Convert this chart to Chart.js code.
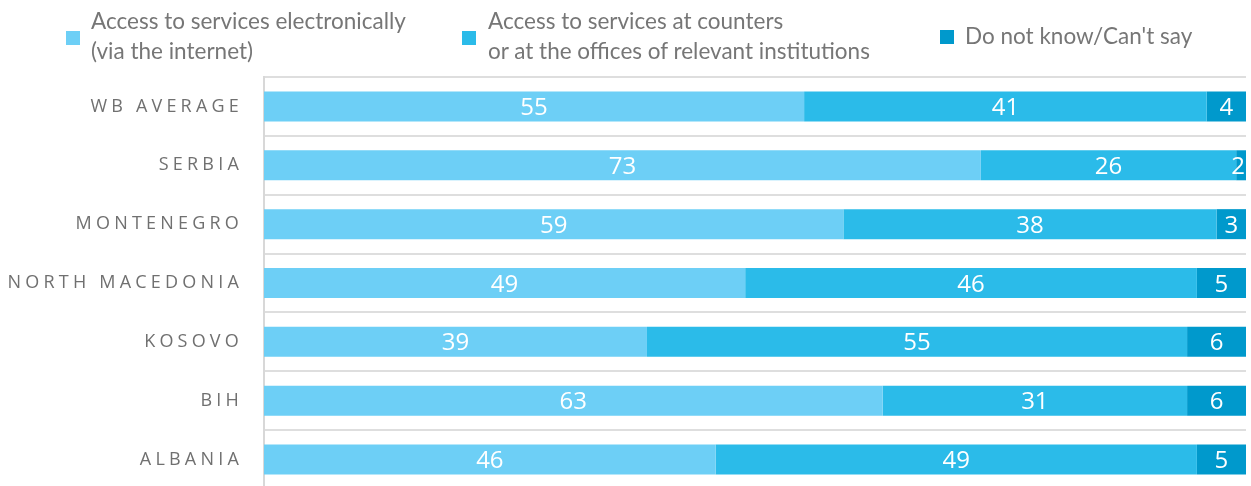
<!DOCTYPE html>
<html>
<head>
<meta charset="utf-8">
<script src="https://cdn.jsdelivr.net/npm/chart.js@4.4.1/dist/chart.umd.min.js"></script>
<style>
  html, body { margin: 0; padding: 0; background: #fff; overflow: hidden; }
  #wrap { position: relative; width: 1251px; height: 486px; }
  #mychart { position: absolute; left: 0; top: 0; }
  .lg { position: absolute; font-family: Lato, sans-serif; font-size: 22.5px; line-height: 30px; color: #767676; white-space: nowrap; }
  .sw { position: absolute; width: 14px; height: 14px; }
</style>
</head>
<body>
<div id="wrap">
  <canvas id="mychart" width="1251" height="490"></canvas>
</div>
<script>
const categories = ['WB AVERAGE', 'SERBIA', 'MONTENEGRO', 'NORTH MACEDONIA', 'KOSOVO', 'BIH', 'ALBANIA'];
const online = [55, 73, 59, 49, 39, 63, 46];
const counters = [41, 26, 38, 46, 55, 31, 49];
const dontKnow = [4, 2, 3, 5, 6, 6, 5];
const seriesNames = [
    ['Access to services electronically', '(via the internet)'],
    ['Access to services at counters', 'or at the offices of relevant institutions'],
    ['Do not know/Can\'t say']
];
const colors = ['#6dcff6', '#2bbbe9', '#0099cc'];

// legend is html, two-line labels are awkward in the canvas legend
const legendPos = [
    {sx: 66, sy: 31, tx: 91, ty: 6},
    {sx: 462, sy: 31, tx: 488, ty: 6},
    {sx: 940, sy: 30, tx: 965, ty: 21}
];
const wrap = document.getElementById('wrap');
seriesNames.forEach((lines, i) => {
    const p = legendPos[i];
    const sw = document.createElement('div');
    sw.className = 'sw';
    sw.style.left = p.sx + 'px';
    sw.style.top = p.sy + 'px';
    sw.style.background = colors[i];
    wrap.appendChild(sw);
    const t = document.createElement('div');
    t.className = 'lg';
    t.style.left = p.tx + 'px';
    t.style.top = p.ty + 'px';
    t.innerHTML = lines.join('<br>');
    wrap.appendChild(t);
});

// letter spacing for the country names
const spacedTicks = {
    id: 'spacedTicks',
    beforeDraw(chart) { chart.ctx.letterSpacing = '4.2px'; },
    beforeDatasetsDraw(chart) { chart.ctx.letterSpacing = '0px'; }
};

// white numbers in the middle of each piece
const barLabels = {
    id: 'barLabels',
    afterDatasetsDraw(chart) {
        const ctx = chart.ctx;
        const area = chart.chartArea;
        ctx.save();
        ctx.letterSpacing = '0px';
        ctx.font = '24px "Open Sans"';
        ctx.fillStyle = '#fff';
        ctx.textAlign = 'center';
        ctx.textBaseline = 'alphabetic';
        chart.data.datasets.forEach((ds, i) => {
            chart.getDatasetMeta(i).data.forEach((bar, j) => {
                const txt = String(ds.data[j]);
                const w = ctx.measureText(txt).width;
                const x0 = Math.max(bar.base, area.left);
                const x1 = Math.min(bar.x, area.right);
                let cx = (x0 + x1) / 2;
                if (cx + w / 2 > area.right - 1) cx = area.right - 1 - w / 2;
                ctx.fillText(txt, cx, bar.y + 8.5);
            });
        });
        ctx.restore();
    }
};

const ctx = document.getElementById('mychart').getContext('2d');

const mychart = new Chart(ctx, {
    type: 'bar',
    data: {
        labels: categories,
        datasets: [
            {label: seriesNames[0].join(' '), data: online, backgroundColor: colors[0]},
            {label: seriesNames[1].join(' '), data: counters, backgroundColor: colors[1]},
            {label: seriesNames[2].join(' '), data: dontKnow, backgroundColor: colors[2]}
        ]
    },
    options: {
        responsive: false,
        animation: false,
        indexAxis: 'y',
        barPercentage: 0.51,
        categoryPercentage: 1,
        layout: {padding: {top: 77, right: 5, bottom: 1, left: 0}},
        plugins: {
            legend: {display: false},
            tooltip: {enabled: false}
        },
        scales: {
            x: {
                stacked: true,
                min: 0,
                max: 100,
                display: false
            },
            y: {
                stacked: true,
                grid: {color: '#dedede', lineWidth: 2, drawTicks: false},
                border: {color: '#d8d8d8', width: 2},
                ticks: {
                    color: '#707070',
                    font: {family: 'Open Sans', size: 18},
                    padding: 21
                },
                afterFit(scale) {
                    scale.width = 264;
                    // tick padding should not eat the bottom of the plot
                    scale.paddingTop = 0;
                    scale.paddingBottom = 0;
                }
            }
        }
    },
    plugins: [spacedTicks, barLabels]
});
</script>
</body>
</html>
